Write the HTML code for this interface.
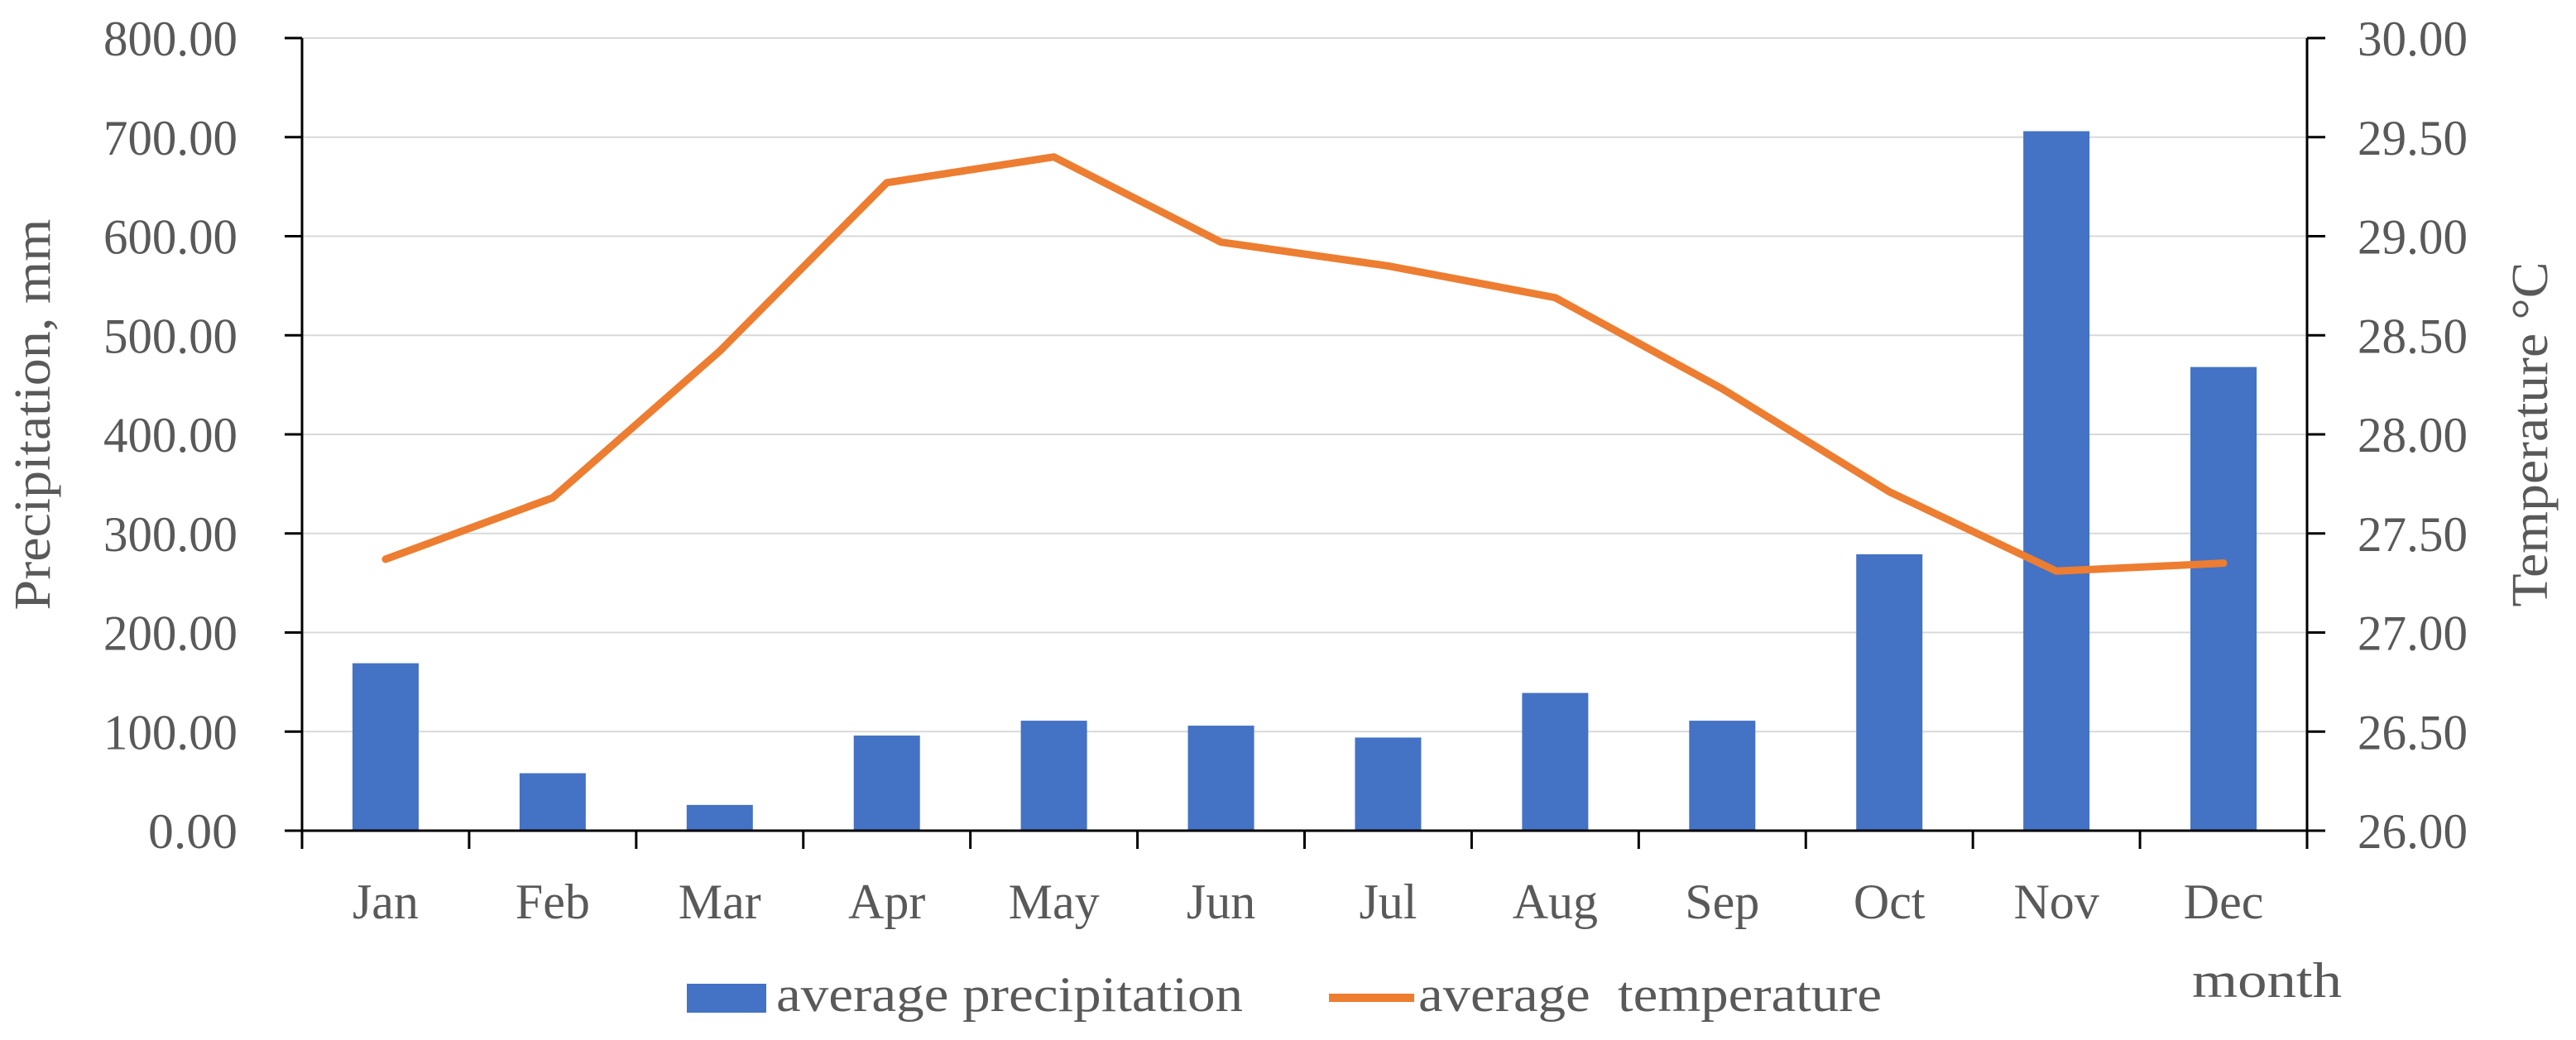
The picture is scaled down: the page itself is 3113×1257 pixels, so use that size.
<!DOCTYPE html>
<html><head><meta charset="utf-8"><style>
html,body{margin:0;padding:0;background:#fff;}
svg{display:block;font-family:"Liberation Serif",serif;}
</style></head><body>
<svg id="chart" width="3113" height="1257" viewBox="0 0 3113 1257" xmlns="http://www.w3.org/2000/svg">
<g id="grid"></g>
<g id="bars"></g>
<g id="line"></g>
<g id="axes"></g>
<text x="0" y="0" transform="translate(60,501) rotate(-90)" text-anchor="middle" font-size="62" fill="#595959" textLength="473" lengthAdjust="spacingAndGlyphs">Precipitation, mm</text>
<text x="0" y="0" transform="translate(3078,525) rotate(-90)" text-anchor="middle" font-size="62" fill="#595959" textLength="417" lengthAdjust="spacingAndGlyphs">Temperature °C</text>
<text x="2649" y="1205" font-size="60" fill="#595959" textLength="181" lengthAdjust="spacingAndGlyphs">month</text>
<g>
<rect x="830" y="1189" width="96" height="35" fill="#4472C4"/>
<text x="938" y="1222" font-size="60" fill="#595959" textLength="564" lengthAdjust="spacingAndGlyphs">average precipitation</text>
<line x1="1606" y1="1206" x2="1709" y2="1206" stroke="#ED7D31" stroke-width="10"/>
<text x="1714" y="1222" font-size="60" fill="#595959" textLength="560" lengthAdjust="spacingAndGlyphs" xml:space="preserve">average  temperature</text>
</g>
</svg>
<script>
const months=["Jan","Feb","Mar","Apr","May","Jun","Jul","Aug","Sep","Oct","Nov","Dec"];
const precipitation=[169,58,26,96,111,106,94,139,111,279,706,468];
const temperature=[27.37,27.68,28.42,29.27,29.40,28.97,28.85,28.69,28.23,27.71,27.31,27.35];
const leftTicks=["0.00","100.00","200.00","300.00","400.00","500.00","600.00","700.00","800.00"];
const rightTicks=["26.00","26.50","27.00","27.50","28.00","28.50","29.00","29.50","30.00"];
const NS="http://www.w3.org/2000/svg";
const X0=365,X1=2788,Y0=1004,Y1=46;
const bw=(X1-X0)/months.length;
const yL=v=>Y0-(v-0)/800*(Y0-Y1);
const yR=v=>Y0-(v-26)/4*(Y0-Y1);
const xC=i=>X0+bw*(i+0.5);
function mk(tag,attrs,parent){const e=document.createElementNS(NS,tag);for(const k in attrs)e.setAttribute(k,attrs[k]);parent.appendChild(e);return e;}
const grid=document.getElementById('grid'),bars=document.getElementById('bars'),lineG=document.getElementById('line'),axes=document.getElementById('axes');
leftTicks.forEach((t,i)=>{
  const v=parseFloat(t),y=yL(v);
  if(i>0){const g=mk('line',{x1:X0,x2:X1,y1:y,y2:y,stroke:'#d9d9d9','stroke-width':2},grid);
  
  }
  const tk=mk('line',{x1:344,x2:X0,y1:y,y2:y,stroke:'#000','stroke-width':3},axes);
  
  
  const tx=mk('text',{x:287,y:y+21,'text-anchor':'end','font-size':60,fill:'#595959',textLength:t.length*27,lengthAdjust:'spacingAndGlyphs'},axes);
  tx.textContent=t;
  
  
});
rightTicks.forEach(t=>{
  const y=yR(parseFloat(t));
  const tk=mk('line',{x1:X1,x2:2810,y1:y,y2:y,stroke:'#000','stroke-width':3},axes);
  
  
  const tx=mk('text',{x:2849,y:y+21,'font-size':60,fill:'#595959',textLength:133,lengthAdjust:'spacingAndGlyphs'},axes);
  tx.textContent=t;
  
  
});
precipitation.forEach((v,i)=>{
  const r=mk('rect',{x:xC(i)-40,y:yL(v),width:80,height:Y0-yL(v),fill:'#4472C4'},bars);
  
  
});
const pts=temperature.map((v,i)=>xC(i)+','+yR(v)).join(' ');
const pl=mk('polyline',{points:pts,fill:'none',stroke:'#ED7D31','stroke-width':9,'stroke-linejoin':'round','stroke-linecap':'round'},lineG);


const la=mk('line',{x1:X0,x2:X0,y1:Y1,y2:1026,stroke:'#000','stroke-width':3},axes);


const ra=mk('line',{x1:X1,x2:X1,y1:Y1,y2:1026,stroke:'#000','stroke-width':3},axes);


const xa=mk('line',{x1:X0,x2:X1,y1:Y0,y2:Y0,stroke:'#000','stroke-width':3},axes);


months.forEach((m,i)=>{
  if(i>0){const tk=mk('line',{x1:X0+bw*i,x2:X0+bw*i,y1:Y0,y2:1026,stroke:'#000','stroke-width':3},axes);
  
  }
  const tx=mk('text',{x:xC(i),y:1110,'text-anchor':'middle','font-size':60,fill:'#595959'},axes);
  tx.textContent=m;
  
  
});
</script>
</body></html>
